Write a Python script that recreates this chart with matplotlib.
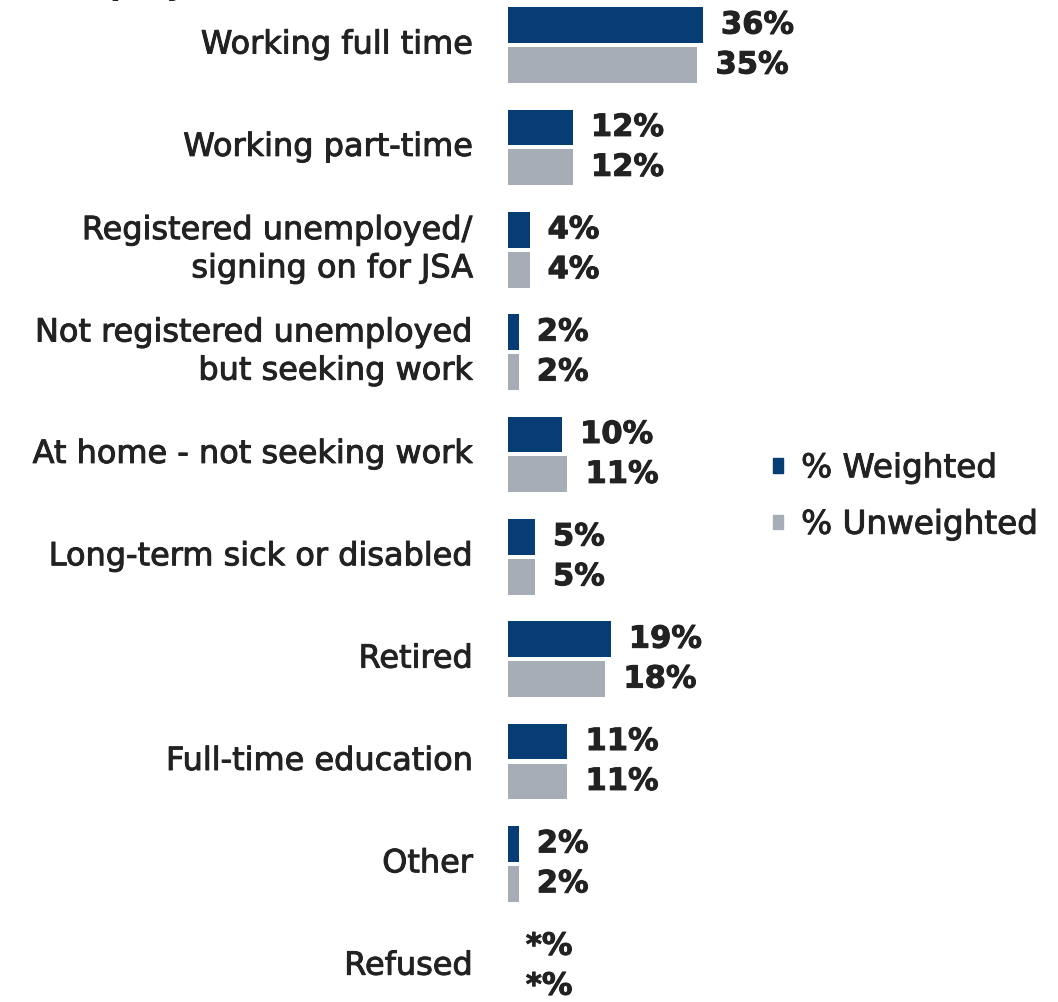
import matplotlib.pyplot as plt
import matplotlib.patheffects as pe
import numpy as np
from matplotlib.patches import Patch

plt.rcParams['font.family'] = ['DejaVu Sans']

# Employment status, weighted vs unweighted (%)
categories = [
    "Working full time",
    "Working part-time",
    "Registered unemployed/\nsigning on for JSA",
    "Not registered unemployed\nbut seeking work",
    "At home - not seeking work",
    "Long-term sick or disabled",
    "Retired",
    "Full-time education",
    "Other",
    "Refused",
]
weighted = [36, 12, 4, 2, 10, 5, 19, 11, 2, 0]
unweighted = [35, 12, 4, 2, 11, 5, 18, 11, 2, 0]
weighted_lbl = ["36%", "12%", "4%", "2%", "10%", "5%", "19%", "11%", "2%", "*%"]
unweighted_lbl = ["35%", "12%", "4%", "2%", "11%", "5%", "18%", "11%", "2%", "*%"]

navy = "#063d74"
grey = "#a6adb6"
txt = "#222222"
heavy = [pe.withStroke(linewidth=0.7, foreground=txt)]

fig = plt.figure(figsize=(10.58, 10.02), dpi=100)
ax = fig.add_axes([0.48, 0.0, 0.512, 1.0])

y = np.arange(len(categories))
h = 0.35
off = 0.195
ax.barh(y - off, weighted, height=h, color=navy)
ax.barh(y + off, unweighted, height=h, color=grey)

for i in range(len(categories)):
    ax.annotate(weighted_lbl[i], (weighted[i], y[i] - off), xytext=(13, 0),
                textcoords="offset points", va="center", ha="left",
                fontsize=22, fontweight="bold", color=txt, path_effects=heavy)
    ax.annotate(unweighted_lbl[i], (unweighted[i], y[i] + off), xytext=(13, 0),
                textcoords="offset points", va="center", ha="left",
                fontsize=22, fontweight="bold", color=txt, path_effects=heavy)
    ax.annotate(categories[i], (0, y[i]), xytext=(-25, 0),
                textcoords="offset points", va="center", ha="right",
                fontsize=23, color=txt, linespacing=1.3, path_effects=heavy)

ax.set_xlim(0, 100)
ax.set_ylim(9.35, -0.44)
ax.axis("off")

# heading mostly above the top edge
fig.text(0.052, 1.006, "Employment status", fontsize=23, fontweight="bold",
         color=txt, va="baseline", ha="left")

handles = [Patch(color=navy), Patch(color=grey)]
leg = fig.legend(handles, ["% Weighted", "% Unweighted"], loc="center left",
                 bbox_to_anchor=(0.731, 0.505), frameon=False, fontsize=23.5,
                 handlelength=0.3, handleheight=0.3, handletextpad=0.55,
                 labelspacing=0.72, borderpad=0, borderaxespad=0, labelcolor=txt)
for t in leg.get_texts():
    t.set_path_effects(heavy)

plt.savefig("out.png", dpi=100)
